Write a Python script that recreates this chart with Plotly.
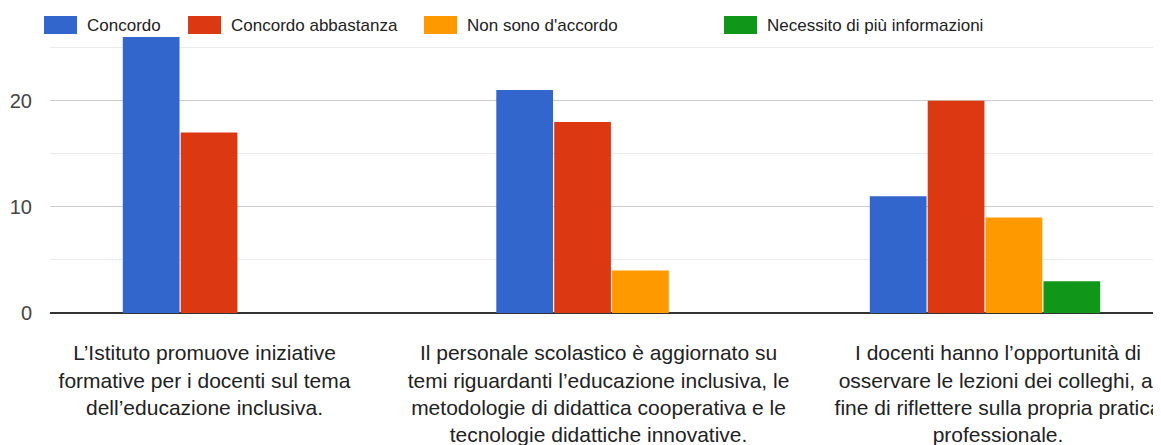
import plotly.graph_objects as go

categories = [
    "L’Istituto promuove iniziative<br>formative per i docenti sul tema<br>dell’educazione inclusiva.",
    "Il personale scolastico è aggiornato su<br>temi riguardanti l’educazione inclusiva, le<br>metodologie di didattica cooperativa e le<br>tecnologie didattiche innovative.",
    "I docenti hanno l’opportunità di<br>osservare le lezioni dei colleghi, al<br>fine di riflettere sulla propria pratica<br>professionale.",
]
series_names = ["Concordo", "Concordo abbastanza", "Non sono d'accordo", "Necessito di più informazioni"]
concordo = [26, 21, 11]
concordo_abbastanza = [17, 18, 20]
non_sono_daccordo = [0, 4, 9]
necessito_info = [0, 0, 3]
colors = ["#3366cc", "#dc3912", "#ff9900", "#109618"]

series_values = [concordo, concordo_abbastanza, non_sono_daccordo, necessito_info]

# the page body has an 8px margin: figure coordinates = page coordinates - 8
OFF = 8
W, H = 1161 - OFF, 445 - OFF
ML, MR, MT = 50 - OFF, 0, 37 - OFF
plot_h = 276
MB = H - MT - plot_h
FONT = "Liberation Sans, Arial, sans-serif"

fig = go.Figure()
for name, vals, col in zip(series_names, series_values, colors):
    fig.add_trace(go.Bar(
        name=name, x=list(range(len(categories))), y=vals,
        marker=dict(color=col, line=dict(width=0)),
        showlegend=False,
    ))

# axis range so that the third category is cut by the right edge as in the reference
cat_px = 373.5
plot_w = W - ML - MR
x0 = -0.5 - 1.25 / cat_px
x1 = x0 + plot_w / cat_px

# horizontal nudges (in pixels) of the category labels, as placed in the reference
label_nudge_px = [-33.5, -13, 13]
tick_positions = [i + d / cat_px for i, d in enumerate(label_nudge_px)]

fig.update_layout(
    width=W, height=H,
    margin=dict(l=ML, r=MR, t=MT, b=MB, autoexpand=False),
    paper_bgcolor="white", plot_bgcolor="white",
    barmode="group", bargap=0.38, bargroupgap=0.02,
    font=dict(family=FONT, color="#222"),
    xaxis=dict(
        range=[x0, x1],
        tickmode="array", tickvals=tick_positions, ticktext=categories,
        tickangle=0, showgrid=False, showline=False, zeroline=False,
        tickfont=dict(size=21, color="#222"), ticks="outside", ticklen=21, tickcolor="rgba(0,0,0,0)",
        ticklabeloverflow="allow",
        automargin=False,
    ),
    yaxis=dict(
        range=[0, 26], dtick=10, tick0=0,
        showgrid=True, gridcolor="#cccccc", gridwidth=1,
        zeroline=True, zerolinecolor="#333333", zerolinewidth=2,
        showline=False,
        tickfont=dict(size=20, color="#444"), ticklabelstandoff=17,
        minor=dict(dtick=5, tick0=0, showgrid=True, gridcolor="#ebebeb", gridwidth=1),
        automargin=False,
    ),
)

# custom legend (large swatches like the reference); positions given in page pixels
def px_x(px):
    return (px - OFF - ML) / plot_w
def px_y(py):
    return (H - MB - (py - OFF)) / plot_h

sw_left = [44, 188, 424, 724]
sw_w = 33
for name, col, sx in zip(series_names, colors, sw_left):
    fig.add_shape(type="rect", xref="paper", yref="paper",
                  x0=px_x(sx), x1=px_x(sx + sw_w), y0=px_y(34), y1=px_y(16),
                  fillcolor=col, line=dict(width=0), layer="above")
    fig.add_annotation(xref="paper", yref="paper", x=px_x(sx + sw_w + 8), y=px_y(25),
                       text=name, showarrow=False, xanchor="left", yanchor="middle",
                       font=dict(size=17, color="#222", family=FONT))

fig.write_html("out.html")
